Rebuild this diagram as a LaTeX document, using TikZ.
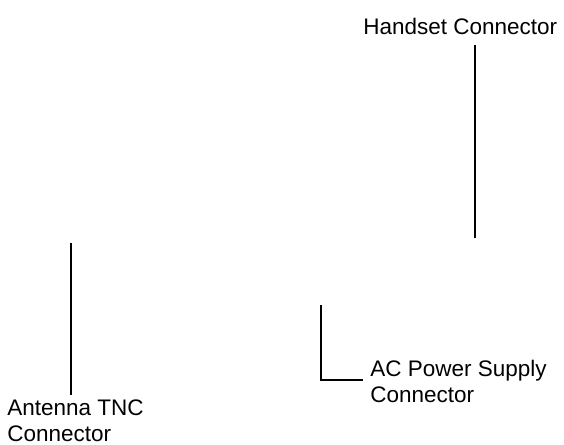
\documentclass[tikz,border=0pt]{standalone}
\usepackage{fontspec}
\setmainfont{Liberation Sans}
\usetikzlibrary{positioning}
\definecolor{ink}{RGB}{0,0,0}
\tikzset{
  lbl/.style={font=\fontsize{12.8}{15.1}\selectfont,text=ink,inner sep=0pt,align=left,anchor=base west},
  lead/.style={draw=ink,line width=0.75pt},
}

\begin{document}
\begin{tikzpicture}[x=0.02cm,y=0.02cm]
    \useasboundingbox (0,0) rectangle (564,445);
    % labels (base = last line)
    \node[lbl] (hs) at (363,410) {Handset Connector};
    \node[lbl] (ac) at (370,42) {AC Power Supply\\Connector};
    \node[lbl] (ant) at (7,3) {Antenna TNC\\Connector};
    % leader ends
    \coordinate (hs top) at (475,400);
    \coordinate (hs end) at (475,207);
    \coordinate (ant top) at (71,202);
    \coordinate (ant end) at (71,50);
    \coordinate (ac top) at (321,140);
    \coordinate (ac end) at (363,65);
    \draw[lead] (hs top) -- (hs end);
    \draw[lead] (ant top) -- (ant end);
    \draw[lead] (ac top) |- (ac end);
  \end{tikzpicture}
\end{document}
